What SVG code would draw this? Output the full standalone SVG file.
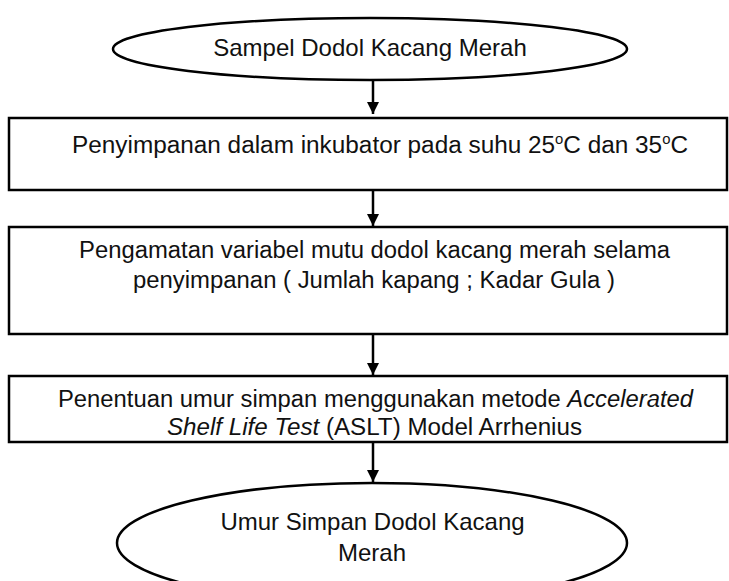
<svg xmlns="http://www.w3.org/2000/svg" width="729" height="581" viewBox="0 0 729 581">
<defs>
<style>
.shape{fill:#fff;stroke:#000;stroke-width:2.5}
.t{font-family:"Liberation Sans",Arial,sans-serif;font-size:23px;fill:#111;text-anchor:middle}
.e{font-size:24px}
.c{stroke:#000;stroke-width:2.5;fill:none}
</style>
<marker id="ah" markerWidth="12" markerHeight="12" viewBox="0 0 12 12" refX="12" refY="6" orient="auto" markerUnits="userSpaceOnUse">
<path d="M0,0 L12,6 L0,12 Z" fill="#000"/>
</marker>
</defs>
<g id="connectors">
<line class="c" x1="373" y1="80" x2="373" y2="114" marker-end="url(#ah)"/>
<line class="c" x1="373" y1="190" x2="373" y2="226" marker-end="url(#ah)"/>
<line class="c" x1="373" y1="334" x2="373" y2="375" marker-end="url(#ah)"/>
<line class="c" x1="373" y1="442" x2="373" y2="482" marker-end="url(#ah)"/>
</g>
<g id="start">
<ellipse class="shape" cx="370" cy="49" rx="257" ry="31"/>
<text class="t e" x="370" y="56">Sampel Dodol Kacang Merah</text>
</g>
<g id="box1">
<rect class="shape" x="9" y="118" width="718" height="72"/>
<text class="t" x="380" y="153" textLength="616" lengthAdjust="spacingAndGlyphs">Penyimpanan dalam inkubator pada suhu 25<tspan font-size="14" dy="-9">o</tspan><tspan dy="9">C dan 35</tspan><tspan font-size="14" dy="-9">o</tspan><tspan dy="9">C</tspan></text>
</g>
<g id="box2">
<rect class="shape" x="9" y="227" width="718" height="107"/>
<text class="t" x="374.5" y="258" textLength="591" lengthAdjust="spacingAndGlyphs">Pengamatan variabel mutu dodol kacang merah selama</text>
<text class="t" x="374" y="288" textLength="482" lengthAdjust="spacingAndGlyphs">penyimpanan ( Jumlah kapang ; Kadar Gula )</text>
</g>
<g id="box3">
<rect class="shape" x="9" y="376" width="718" height="66"/>
<text class="t" x="375.5" y="407" textLength="635" lengthAdjust="spacingAndGlyphs">Penentuan umur simpan menggunakan metode <tspan font-style="italic">Accelerated</tspan></text>
<text class="t" x="374.5" y="435" textLength="415" lengthAdjust="spacingAndGlyphs"><tspan font-style="italic">Shelf Life Test</tspan> (ASLT) Model Arrhenius</text>
</g>
<g id="end">
<ellipse class="shape" cx="372" cy="543" rx="255" ry="60"/>
<text class="t e" x="372.5" y="530">Umur Simpan Dodol Kacang</text>
<text class="t e" x="372" y="561">Merah</text>
</g>
</svg>
